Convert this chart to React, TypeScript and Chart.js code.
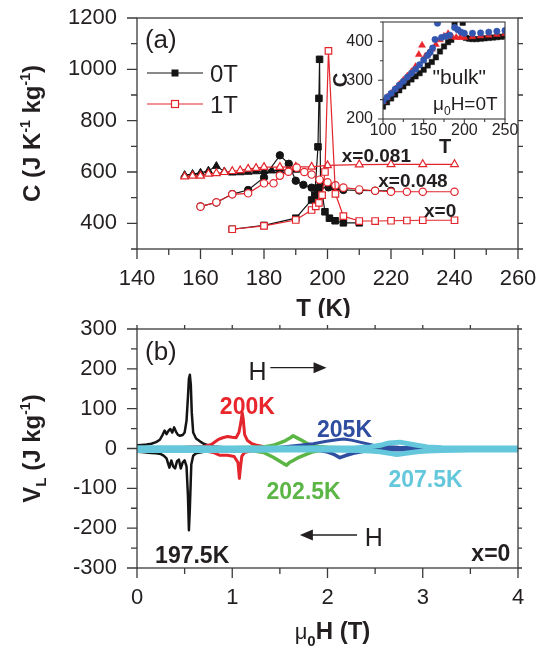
import React, { useEffect, useRef } from 'react';
import { Chart, registerables } from 'chart.js';

Chart.register(...registerables);

const FONT = '"Liberation Sans", Arial, Helvetica, sans-serif';
const INK = '#231f20';
const AXIS = '#3a3a3a';
const RED = '#e3262d';
const BLACK = '#141414';
const GREEN = '#5cb646';
const BLUE = '#2f4ea0';
const CYAN = '#64c7dc';

// ---------------- Panel (a): C vs T ----------------
const aXTicks = [140, 160, 180, 200, 220, 240, 260];
const aYTicks = [400, 600, 800, 1000, 1200];

// x = 0, 0T (filled squares)
const tX0_0T = [170, 180, 190, 195, 196, 197, 197.3, 197.5, 197.8, 199.2, 200.6, 202.4, 205, 210];
const cX0_0T = [377, 392, 420, 491, 510, 698, 887, 1039, 560, 445, 420, 410, 402, 402];
// x = 0, 1T (open squares)
const tX0_1T = [170, 180, 190, 195, 196.3, 197.3, 198.3, 199.2, 200.3, 202.5, 205, 210, 215, 220, 225, 230, 240];
const cX0_1T = [377, 390, 413, 452, 466, 480, 510, 600, 1072, 515, 428, 409, 409, 410, 411, 412, 412];
// x = 0.048, 0T (filled circles)
const tX48_0T = [160, 165, 170, 175, 180, 185, 187.8, 190, 192.4, 195, 196.5, 197.5, 200.3, 202.6, 205, 210, 215, 220];
const cX48_0T = [466, 481, 514, 530, 579, 665, 632, 566, 550, 539, 537, 537, 540, 532, 530, 528, 527, 527];
// x = 0.048, 1T (open circles)
const tX48_1T = [160, 165, 170, 175, 180, 183, 185, 187.7, 190.3, 192.7, 195, 197.5, 200, 202.5, 205, 210, 215, 220, 225, 230, 240];
const cX48_1T = [465, 482, 513, 517, 556, 556, 586, 601, 617, 600, 590, 570, 560, 548, 539, 532, 527, 523, 523, 523, 523];
// x = 0.081, 0T (filled triangles)
const tX81_0T = [155, 157.5, 160, 162.5, 165, 167.5, 170, 172.5, 175, 177.5, 180, 182.5, 185, 187.5, 190];
const cX81_0T = [588, 592, 597, 605, 623, 602, 597, 598, 600, 602, 603, 605, 606, 607, 608];
// x = 0.081, 1T (open triangles)
const tX81_1T = [155, 157.5, 160, 162.5, 165, 167.5, 170, 172.5, 175, 177.5, 180, 185, 190, 195, 200, 210, 220, 230, 240];
const cX81_1T = [582, 585, 585, 593, 595, 599, 603, 606, 612, 615, 619, 619, 620, 620, 626, 629, 630, 630, 630];

// ---------------- Inset: "bulk", mu0H = 0T ----------------
const iXTicks = [100, 150, 200, 250];
const iYTicks = [200, 300, 400];
const iBlackT = [100, 105, 110, 115, 120, 125, 130, 135, 140, 145, 150, 155, 160, 165, 170, 175, 180, 184, 188, 198, 202, 206, 210, 215, 220, 225, 230, 235, 240, 245, 250];
const iBlackC = [232, 243, 253, 263, 274, 284, 293, 302, 310, 318, 327, 338, 347, 359, 374, 387, 398, 404, 448, 448, 409, 407, 406, 406, 407, 408, 409, 410, 411, 412, 413];
const iRedT = [100, 105, 110, 115, 120, 125, 130, 135, 140, 144, 148, 152, 156, 160, 165, 170, 175, 180, 185, 190, 195, 200, 210, 220, 230, 240, 250];
const iRedC = [245, 256, 266, 277, 289, 300, 311, 322, 335, 366, 390, 362, 370, 380, 392, 404, 413, 420, 412, 410, 410, 410, 412, 414, 416, 418, 420];
const iBlueT = [100, 105, 110, 115, 120, 125, 130, 135, 140, 145, 150, 155, 158, 161, 164, 167, 172, 177, 182, 188, 192, 196, 200, 210, 220, 230, 240, 250];
const iBlueC = [246, 256, 266, 277, 287, 297, 308, 318, 328, 340, 352, 364, 372, 383, 405, 447, 410, 413, 416, 436, 430, 424, 421, 421, 422, 424, 426, 428];

// ---------------- Panel (b): V_L vs mu0H ----------------
const bXTicks = [0, 1, 2, 3, 4];
const bYTicks = [-300, -200, -100, 0, 100, 200, 300];

const h1975Up = [0, 0.05, 0.1, 0.15, 0.2, 0.24, 0.27, 0.29, 0.31, 0.33, 0.35, 0.37, 0.39, 0.41, 0.43, 0.45, 0.48, 0.5, 0.52, 0.535, 0.545, 0.555, 0.565, 0.575, 0.59, 0.62, 0.66, 0.7, 0.75, 0.8, 0.9, 1.0, 1.2, 1.5, 2.0, 2.5, 3.0, 3.5, 4.0];
const v1975Up = [8, 9, 10, 12, 16, 22, 35, 45, 36, 44, 49, 40, 53, 42, 34, 32, 34, 40, 70, 130, 175, 185, 160, 90, 40, 25, 18, 12, 8, 5, 3, 2, 1, 1, 0, 0, 0, 0, 0];
const h1975Dn = [0, 0.05, 0.1, 0.15, 0.2, 0.25, 0.28, 0.31, 0.34, 0.36, 0.38, 0.4, 0.42, 0.44, 0.46, 0.48, 0.5, 0.52, 0.535, 0.545, 0.555, 0.57, 0.59, 0.62, 0.66, 0.7, 0.75, 0.8, 0.9, 1.0, 1.5, 2.0, 3.0, 4.0];
const v1975Dn = [-8, -9, -10, -11, -12, -14, -18, -25, -48, -30, -45, -50, -32, -28, -50, -35, -30, -45, -120, -205, -150, -40, -18, -12, -10, -8, -6, -4, -2, -1, 0, 0, 0, 0];

const h200Up = [0, 0.5, 0.7, 0.78, 0.85, 0.9, 0.95, 1.0, 1.04, 1.07, 1.09, 1.105, 1.115, 1.13, 1.16, 1.2, 1.26, 1.35, 1.5, 2, 3, 4];
const v200Up = [2, 3, 5, 10, 22, 27, 30, 28, 27, 40, 65, 90, 75, 35, 20, 13, 8, 4, 2, 1, 0, 0];
const h200Dn = [0, 0.5, 0.7, 0.8, 0.87, 0.95, 1.02, 1.06, 1.075, 1.085, 1.1, 1.13, 1.2, 1.3, 1.5, 2, 3, 4];
const v200Dn = [-2, -3, -5, -10, -17, -17, -20, -35, -75, -50, -20, -10, -6, -3, -1, 0, 0, 0];

const h2025Up = [0, 1.0, 1.2, 1.33, 1.43, 1.5, 1.56, 1.61, 1.64, 1.67, 1.71, 1.77, 1.82, 1.9, 2.0, 2.2, 3, 4];
const v2025Up = [1, 2, 3, 4, 8, 14, 20, 27, 32, 28, 23, 15, 8, 5, 3, 1, 0, 0];
const h2025Dn = [0, 1.0, 1.2, 1.33, 1.43, 1.5, 1.54, 1.57, 1.6, 1.64, 1.7, 1.75, 1.85, 1.95, 2.1, 3, 4];
const v2025Dn = [-1, -2, -5, -10, -22, -32, -38, -42, -35, -30, -22, -17, -8, -4, -2, 0, 0];

const h205Up = [0, 1.5, 1.7, 1.85, 1.99, 2.1, 2.17, 2.25, 2.34, 2.48, 2.6, 2.75, 3.0, 3.5, 4];
const v205Up = [1, 3, 8, 12, 18, 22, 24, 21, 16, 8, 5, 3, 2, 1, 1];
const h205Dn = [0, 1.5, 1.7, 1.85, 1.99, 2.06, 2.13, 2.2, 2.27, 2.38, 2.48, 2.6, 2.8, 3.0, 3.5, 4];
const v205Dn = [-1, -2, -1, -2, -8, -14, -23, -17, -12, -7, -4, -3, -3, -3, -3, -3];

const h2075Up = [0, 0.5, 1, 1.5, 2, 2.3, 2.45, 2.55, 2.65, 2.76, 2.85, 2.94, 3.05, 3.2, 3.5, 4];
const v2075Up = [2, 2, 1, 1, 1, 2, 4, 8, 14, 16, 12, 8, 4, 2, 1, 1];
const h2075Dn = [0, 0.5, 1, 1.5, 2, 2.3, 2.45, 2.55, 2.65, 2.73, 2.82, 2.94, 3.05, 3.2, 3.5, 4];
const v2075Dn = [-5, -5, -5, -4, -4, -5, -6, -8, -12, -15, -12, -8, -6, -5, -4, -4];

// ---------------- helpers ----------------
const pts = (xs: number[], ys: number[]) => xs.map((x, i) => ({ x, y: ys[i] }));
const isMult = (v: number, m: number) => Math.abs(v / m - Math.round(v / m)) < 1e-6;

type Seg = { t: string; size: number; bold?: boolean; dy?: number };
const fnt = (s: Seg) => `${s.bold ? 'bold ' : ''}${s.size}px ${FONT}`;

function drawRich(ctx: CanvasRenderingContext2D, segs: Seg[], x: number, yMid: number, align: 'left' | 'center' | 'right', color: string, angle = 0) {
  ctx.save();
  ctx.translate(x, yMid);
  ctx.rotate(angle);
  ctx.fillStyle = color;
  ctx.textBaseline = 'alphabetic';
  ctx.textAlign = 'left';
  let w = 0;
  for (const s of segs) { ctx.font = fnt(s); w += ctx.measureText(s.t).width; }
  let cx = align === 'center' ? -w / 2 : align === 'right' ? -w : 0;
  const base = 0.36 * segs[0].size;
  for (const s of segs) {
    ctx.font = fnt(s);
    ctx.fillText(s.t, cx, base + (s.dy || 0));
    cx += ctx.measureText(s.t).width;
  }
  ctx.restore();
}

type FrameOpt = { xMinor: number; xMajor: number; yMinor: number; yMajor: number; majorLen: number; minorLen: number; top: number; right: number; lw: number };
function drawFrame(ctx: CanvasRenderingContext2D, a: any, xs: any, ys: any, o: FrameOpt) {
  ctx.save();
  ctx.strokeStyle = AXIS;
  ctx.lineWidth = o.lw;
  ctx.strokeRect(a.left, a.top, a.right - a.left, a.bottom - a.top);
  ctx.beginPath();
  const nx = Math.round((xs.max - xs.min) / o.xMinor);
  for (let i = 0; i <= nx; i++) {
    const v = xs.min + i * o.xMinor;
    const p = xs.getPixelForValue(v);
    const len = isMult(v, o.xMajor) ? o.majorLen : o.minorLen;
    ctx.moveTo(p, a.bottom); ctx.lineTo(p, a.bottom + len);
    if (o.top) { ctx.moveTo(p, a.top); ctx.lineTo(p, a.top - o.top); }
  }
  const ny = Math.round((ys.max - ys.min) / o.yMinor);
  for (let i = 0; i <= ny; i++) {
    const v = ys.min + i * o.yMinor;
    const p = ys.getPixelForValue(v);
    const len = isMult(v, o.yMajor) ? o.majorLen : o.minorLen;
    ctx.moveTo(a.left, p); ctx.lineTo(a.left - len, p);
    if (o.right) { ctx.moveTo(a.right, p); ctx.lineTo(a.right + o.right, p); }
  }
  ctx.stroke();
  ctx.restore();
}

function drawArrow(ctx: CanvasRenderingContext2D, x1: number, y: number, x2: number, color: string) {
  const dir = x2 > x1 ? 1 : -1;
  ctx.save();
  ctx.strokeStyle = color; ctx.fillStyle = color; ctx.lineWidth = 1.4;
  ctx.beginPath(); ctx.moveTo(x1, y); ctx.lineTo(x2 - dir * 10, y); ctx.stroke();
  ctx.beginPath(); ctx.moveTo(x2, y); ctx.lineTo(x2 - dir * 13, y - 5.5); ctx.lineTo(x2 - dir * 13, y + 5.5); ctx.closePath(); ctx.fill();
  ctx.restore();
}

const tickFont = (size: number) => ({ family: FONT, size });

function linScale(min: number, max: number, ticks: number[], fit: (s: any) => void, size: number, padding: number) {
  return {
    type: 'linear' as const,
    min, max,
    afterBuildTicks: (s: any) => { s.ticks = ticks.map((v) => ({ value: v })); },
    afterFit: (s: any) => {
      fit(s);
      s.paddingTop = 0; s.paddingBottom = 0; s.paddingLeft = 0; s.paddingRight = 0;
    },
    grid: { display: false, drawTicks: false },
    border: { display: false },
    ticks: { font: tickFont(size), color: INK, padding, autoSkip: false, maxRotation: 0, callback: (v: any) => String(v) },
  };
}

// ---------------- chart builders ----------------
function makeA(canvas: HTMLCanvasElement) {
  const openRed = (t: number[], c: number[], style: any, r: number) => ({
    data: pts(t, c), borderColor: RED, borderWidth: 1.2, pointStyle: style, pointRadius: r,
    pointBackgroundColor: '#ffffff', pointBorderColor: RED, pointBorderWidth: 1.2,
  });
  const fillBlack = (t: number[], c: number[], style: any, r: number) => ({
    data: pts(t, c), borderColor: BLACK, borderWidth: 1.2, pointStyle: style, pointRadius: r,
    pointBackgroundColor: BLACK, pointBorderColor: BLACK, pointBorderWidth: 1,
  });
  const decor = {
    id: 'decorA',
    afterDraw(chart: any) {
      const { ctx, chartArea: a, scales } = chart;
      const x = scales.x, y = scales.y;
      drawFrame(ctx, a, x, y, { xMinor: 10, xMajor: 20, yMinor: 100, yMajor: 200, majorLen: 10, minorLen: 6, top: 0, right: 5, lw: 1.3 });
      drawRich(ctx, [{ t: 'T (K)', size: 24, bold: true }], (a.left + a.right) / 2 - 4, a.bottom + 58, 'center', INK);
      drawRich(ctx, [
        { t: 'C (J K', size: 24, bold: true },
        { t: '-1', size: 14, bold: true, dy: -10 },
        { t: ' kg', size: 24, bold: true },
        { t: '-1', size: 14, bold: true, dy: -10 },
        { t: ')', size: 24, bold: true },
      ], 31, (a.top + a.bottom) / 2, 'center', INK, -Math.PI / 2);
      drawRich(ctx, [{ t: '(a)', size: 26 }], x.getPixelForValue(142.5), y.getPixelForValue(1118), 'left', INK);
      // legend
      const lx = a.left + 10, rows = [a.top + 55, a.top + 86];
      ctx.save();
      ctx.lineWidth = 1.2;
      ctx.strokeStyle = BLACK;
      ctx.beginPath(); ctx.moveTo(lx, rows[0]); ctx.lineTo(lx + 56, rows[0]); ctx.stroke();
      ctx.fillStyle = BLACK; ctx.fillRect(lx + 28 - 3.5, rows[0] - 3.5, 7, 7);
      ctx.strokeStyle = RED;
      ctx.beginPath(); ctx.moveTo(lx, rows[1]); ctx.lineTo(lx + 56, rows[1]); ctx.stroke();
      ctx.fillStyle = '#fff'; ctx.fillRect(lx + 28 - 3.5, rows[1] - 3.5, 7, 7);
      ctx.strokeRect(lx + 28 - 3.5, rows[1] - 3.5, 7, 7);
      ctx.restore();
      drawRich(ctx, [{ t: '0T', size: 24 }], lx + 63, rows[0], 'left', INK);
      drawRich(ctx, [{ t: '1T', size: 24 }], lx + 63, rows[1], 'left', INK);
      // composition labels
      drawRich(ctx, [{ t: 'x=0.081', size: 19, bold: true }], x.getPixelForValue(204.5), y.getPixelForValue(666), 'left', INK);
      drawRich(ctx, [{ t: 'x=0.048', size: 19, bold: true }], x.getPixelForValue(216), y.getPixelForValue(568), 'left', INK);
      drawRich(ctx, [{ t: 'x=0', size: 19, bold: true }], x.getPixelForValue(230.4), y.getPixelForValue(452), 'left', INK);
    },
  };
  return new Chart(canvas, {
    type: 'line',
    data: {
      datasets: [
        openRed(tX0_1T, cX0_1T, 'rect', 4.6),
        openRed(tX48_1T, cX48_1T, 'circle', 3.7),
        openRed(tX81_1T, cX81_1T, 'triangle', 4.5),
        fillBlack(tX0_0T, cX0_0T, 'rect', 4.6),
        fillBlack(tX48_0T, cX48_0T, 'circle', 3.7),
        fillBlack(tX81_0T, cX81_0T, 'triangle', 4.5),
      ] as any,
    },
    options: {
      responsive: false,
      animation: false,
      devicePixelRatio: 1,
      layout: { padding: { top: 18, right: 21, left: 0, bottom: 0 } },
      plugins: { legend: { display: false }, tooltip: { enabled: false }, title: { display: false } },
      elements: { line: { tension: 0 } },
      scales: {
        x: linScale(140, 260, aXTicks, (s: any) => { s.height = 69; }, 22, 17) as any,
        y: linScale(300, 1200, aYTicks, (s: any) => { s.width = 137; }, 22, 20) as any,
      },
    },
    plugins: [decor],
  });
}

function makeInset(canvas: HTMLCanvasElement) {
  const decor = {
    id: 'decorI',
    afterDraw(chart: any) {
      const { ctx, chartArea: a, scales } = chart;
      const x = scales.x, y = scales.y;
      drawFrame(ctx, a, x, y, { xMinor: 25, xMajor: 50, yMinor: 50, yMajor: 100, majorLen: 5, minorLen: 3, top: 0, right: 0, lw: 1.1 });
      drawRich(ctx, [{ t: 'C', size: 20, bold: true }], a.left - 43, a.top + 58, 'center', INK, -Math.PI / 2);
      drawRich(ctx, [{ t: 'T', size: 20, bold: true }], a.left + 62, a.bottom + 27, 'center', INK);
      drawRich(ctx, [{ t: '"bulk"', size: 21 }], x.getPixelForValue(161), y.getPixelForValue(309), 'left', INK);
      drawRich(ctx, [
        { t: '\u03bc', size: 19 },
        { t: '0', size: 12, dy: 5 },
        { t: 'H=0T', size: 19 },
      ], x.getPixelForValue(161.5), y.getPixelForValue(242), 'left', INK);
    },
  };
  const mk = (t: number[], c: number[], col: string, style: any, r: number) => ({
    data: pts(t, c), showLine: false, pointStyle: style, pointRadius: r,
    pointBackgroundColor: col, pointBorderColor: col, pointBorderWidth: 0.5,
  });
  return new Chart(canvas, {
    type: 'line',
    data: {
      datasets: [
        mk(iBlueT, iBlueC, '#3356b0', 'circle', 3.2),
        mk(iRedT, iRedC, '#e8262c', 'triangle', 4),
        mk(iBlackT, iBlackC, BLACK, 'rect', 3.8),
      ] as any,
    },
    options: {
      responsive: false,
      animation: false,
      devicePixelRatio: 1,
      layout: { padding: { top: 22, right: 34, left: 0, bottom: 0 } },
      plugins: { legend: { display: false }, tooltip: { enabled: false } },
      scales: {
        x: linScale(100, 250, iXTicks, (s: any) => { s.height = 51; }, 16, 2) as any,
        y: linScale(200, 450, iYTicks, (s: any) => { s.width = 83; }, 16, 10) as any,
      },
    },
    plugins: [decor],
  });
}

function makeB(canvas: HTMLCanvasElement) {
  const ln = (h: number[], v: number[], col: string, w: number) => ({
    data: pts(h, v), borderColor: col, borderWidth: w, pointRadius: 0,
    borderJoinStyle: 'round', borderCapStyle: 'round', tension: 0,
  });
  const decor = {
    id: 'decorB',
    afterDraw(chart: any) {
      const { ctx, chartArea: a, scales } = chart;
      const x = scales.x, y = scales.y;
      drawFrame(ctx, a, x, y, { xMinor: 0.5, xMajor: 1, yMinor: 50, yMajor: 100, majorLen: 10, minorLen: 6, top: 4, right: 4, lw: 1.3 });
      drawRich(ctx, [
        { t: '\u03bc', size: 22 },
        { t: '0', size: 15, bold: true, dy: 7 },
        { t: 'H (T)', size: 24, bold: true },
      ], (a.left + a.right) / 2 + 5, a.bottom + 63, 'center', INK);
      drawRich(ctx, [
        { t: 'V', size: 24, bold: true },
        { t: 'L', size: 15, bold: true, dy: 6 },
        { t: ' (J kg', size: 24, bold: true },
        { t: '-1', size: 14, bold: true, dy: -10 },
        { t: ')', size: 24, bold: true },
      ], 31, (a.top + a.bottom) / 2, 'center', INK, -Math.PI / 2);
      drawRich(ctx, [{ t: '(b)', size: 26 }], x.getPixelForValue(0.084), y.getPixelForValue(245), 'left', INK);
      drawRich(ctx, [{ t: 'H', size: 25 }], x.getPixelForValue(1.17), y.getPixelForValue(195), 'left', INK);
      drawArrow(ctx, x.getPixelForValue(1.4), y.getPixelForValue(203), x.getPixelForValue(1.99), INK);
      drawArrow(ctx, x.getPixelForValue(2.31), y.getPixelForValue(-217), x.getPixelForValue(1.71), INK);
      drawRich(ctx, [{ t: 'H', size: 25 }], x.getPixelForValue(2.39), y.getPixelForValue(-222), 'left', INK);
      drawRich(ctx, [{ t: '197.5K', size: 23, bold: true }], x.getPixelForValue(0.19), y.getPixelForValue(-266), 'left', INK);
      drawRich(ctx, [{ t: '200K', size: 23, bold: true }], x.getPixelForValue(0.87), y.getPixelForValue(107), 'left', '#e8262c');
      drawRich(ctx, [{ t: '202.5K', size: 23, bold: true }], x.getPixelForValue(1.36), y.getPixelForValue(-105), 'left', GREEN);
      drawRich(ctx, [{ t: '205K', size: 23, bold: true }], x.getPixelForValue(1.89), y.getPixelForValue(50), 'left', BLUE);
      drawRich(ctx, [{ t: '207.5K', size: 23, bold: true }], x.getPixelForValue(2.64), y.getPixelForValue(-75), 'left', CYAN);
      drawRich(ctx, [{ t: 'x=0', size: 23, bold: true }], x.getPixelForValue(3.92), y.getPixelForValue(-262), 'right', INK);
    },
  };
  return new Chart(canvas, {
    type: 'line',
    data: {
      datasets: [
        ln(h2075Up, v2075Up, CYAN, 5),
        ln(h2075Dn, v2075Dn, CYAN, 5),
        ln(h205Up, v205Up, BLUE, 3),
        ln(h205Dn, v205Dn, BLUE, 3.5),
        ln(h2025Up, v2025Up, GREEN, 3.5),
        ln(h2025Dn, v2025Dn, GREEN, 3.5),
        ln(h200Up, v200Up, RED, 3),
        ln(h200Dn, v200Dn, RED, 3),
        ln(h1975Up, v1975Up, BLACK, 2.5),
        ln(h1975Dn, v1975Dn, BLACK, 2.5),
      ] as any,
    },
    options: {
      responsive: false,
      animation: false,
      devicePixelRatio: 1,
      layout: { padding: { top: 11, right: 21, left: 0, bottom: 0 } },
      plugins: { legend: { display: false }, tooltip: { enabled: false } },
      scales: {
        x: linScale(0, 4, bXTicks, (s: any) => { s.height = 83; }, 22, 17) as any,
        y: linScale(-300, 300, bYTicks, (s: any) => { s.width = 137; }, 22, 20) as any,
      },
    },
    plugins: [decor],
  });
}

export default function App() {
  const refA = useRef<HTMLCanvasElement>(null);
  const refB = useRef<HTMLCanvasElement>(null);
  const refI = useRef<HTMLCanvasElement>(null);
  useEffect(() => {
    const charts = [makeA(refA.current!), makeB(refB.current!), makeInset(refI.current!)];
    return () => charts.forEach((c) => c.destroy());
  }, []);
  return (
    <div style={{ position: 'absolute', left: 0, top: 0, width: 539, height: 651, background: '#ffffff', overflow: 'hidden' }}>
      <canvas ref={refA} width={539} height={318} style={{ position: 'absolute', left: 0, top: 0, width: 539, height: 318 }} />
      <canvas ref={refB} width={539} height={333} style={{ position: 'absolute', left: 0, top: 318, width: 539, height: 333 }} />
      <canvas ref={refI} width={239} height={170} style={{ position: 'absolute', left: 300, top: 0, width: 239, height: 170 }} />
    </div>
  );
}
